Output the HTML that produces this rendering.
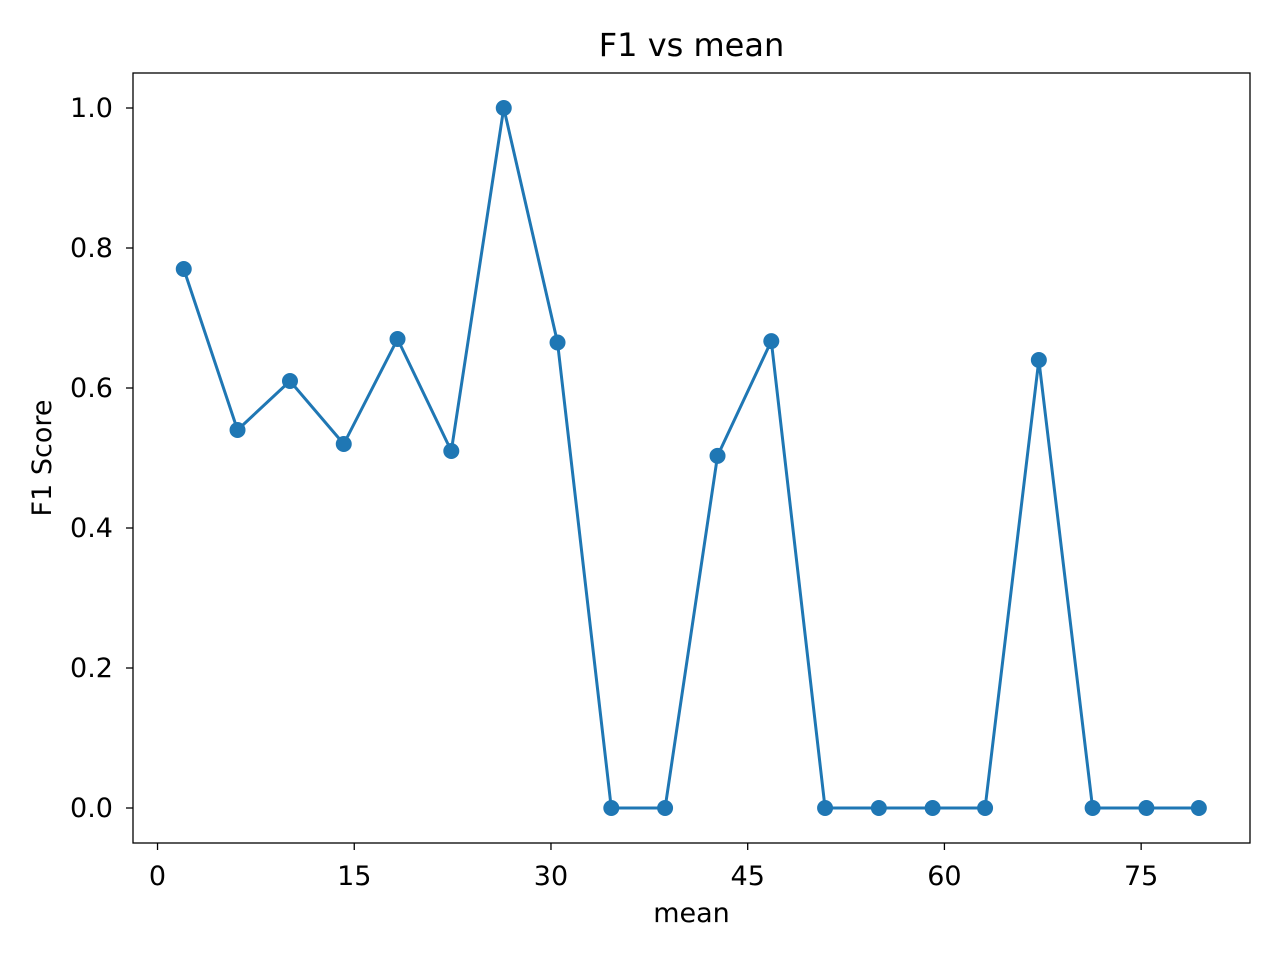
<!DOCTYPE html>
<html><head><meta charset="utf-8"><style>
body{margin:0;background:#fff;}
svg text{font-family:"DejaVu Sans","Liberation Sans",sans-serif;fill:#000;}
</style></head><body>
<svg id="chart" width="1280" height="960" xmlns="http://www.w3.org/2000/svg">
<rect width="1280" height="960" fill="#fff"/>
<g id="plot"></g>
</svg>
<script>
const xValues=[2.0,6.1,10.1,14.2,18.3,22.4,26.4,30.5,34.6,38.7,42.7,46.8,50.9,55.0,59.1,63.1,67.2,71.3,75.4,79.4];
const f1Values=[0.77,0.54,0.61,0.52,0.67,0.51,1.0,0.665,0,0,0.503,0.667,0,0,0,0,0.64,0,0,0];
const xTicks=[0,15,30,45,60,75];
const yTicks=[0.0,0.2,0.4,0.6,0.8,1.0];
const L=133,R=1250,T=73,B=843;
const xmin=-1.87,xmax=83.3,ymin=-0.05,ymax=1.05;
const sx=v=>L+(v-xmin)/(xmax-xmin)*(R-L);
const sy=v=>B-(v-ymin)/(ymax-ymin)*(B-T);
const NS="http://www.w3.org/2000/svg";
const g=document.getElementById('plot');
function mk(tag,attrs,text){const e=document.createElementNS(NS,tag);for(const k in attrs)e.setAttribute(k,attrs[k]);if(text!==undefined)e.textContent=text;g.appendChild(e);return e;}
let e;
e=mk('text',{x:(L+R)/2,y:56,'font-size':'32px','text-anchor':'middle'},'F1 vs mean');


xTicks.forEach(t=>{
 e=mk('line',{x1:sx(t),x2:sx(t),y1:B,y2:B+7,stroke:'#000','stroke-width':1.3});
 
 
 e=mk('text',{x:sx(t),y:B+42,'font-size':'27px','text-anchor':'middle'},String(t));
 
 
});
yTicks.forEach(t=>{
 e=mk('line',{x1:L-7,x2:L,y1:sy(t),y2:sy(t),stroke:'#000','stroke-width':1.3});
 
 
 e=mk('text',{x:L-20,y:sy(t)+9,'font-size':'27px','text-anchor':'end'},t.toFixed(1));
 
 
});
e=mk('text',{x:(L+R)/2,y:922,'font-size':'27px','text-anchor':'middle'},'mean');


e=mk('text',{x:0,y:0,'font-size':'27px','text-anchor':'middle',transform:`translate(51,${(T+B)/2}) rotate(-90)`},'F1 Score');


const pts=xValues.map((x,i)=>sx(x)+','+sy(f1Values[i])).join(' ');
e=mk('polyline',{points:pts,fill:'none',stroke:'#1f77b4','stroke-width':3,'stroke-linejoin':'round'});


xValues.forEach((x,i)=>{
 e=mk('circle',{cx:sx(x),cy:sy(f1Values[i]),r:8,fill:'#1f77b4'});
 
 
});
e=mk('rect',{x:L,y:T,width:R-L,height:B-T,fill:'none',stroke:'#000','stroke-width':1.3});


</script>
</body></html>
